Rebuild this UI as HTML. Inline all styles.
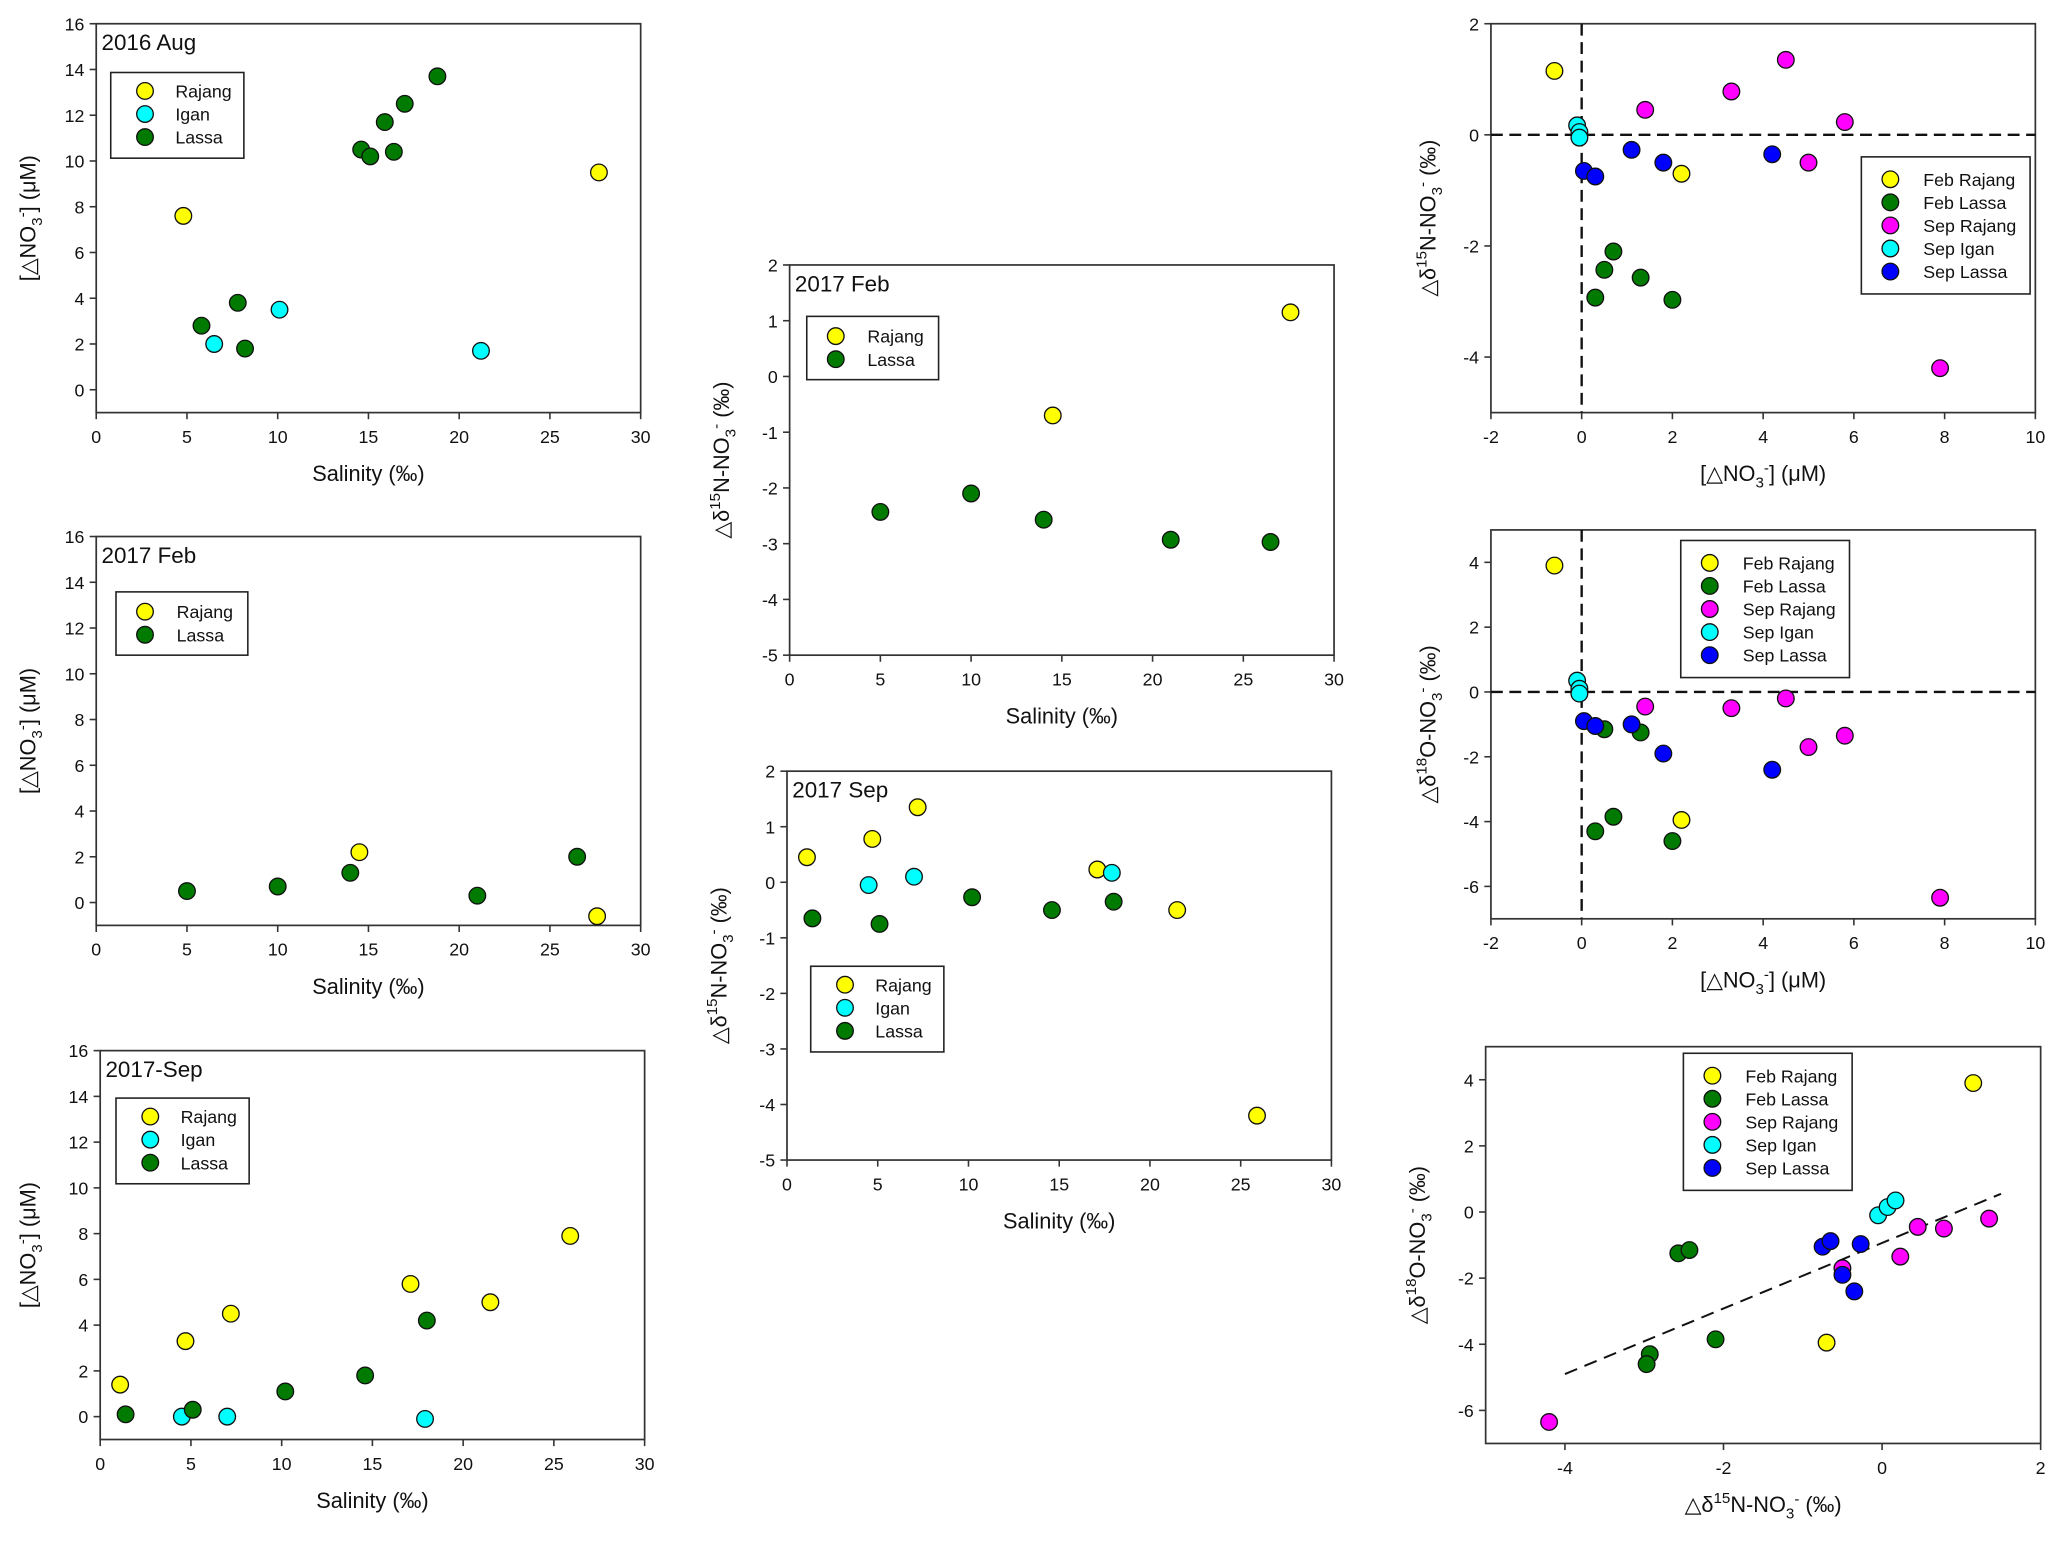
<!DOCTYPE html>
<html><head><meta charset="utf-8"><style>
html,body{margin:0;padding:0;background:#fff;}
svg{display:block;font-family:"Liberation Sans",Arial,sans-serif;}
</style></head><body>
<svg id="fig" width="2067" height="1548" viewBox="0 0 1568 1174.3" preserveAspectRatio="none" xmlns="http://www.w3.org/2000/svg"></svg>
<script>
const p1RajangX=[4.8,27.7]; const p1RajangY=[7.6,9.5];
const p1IganX=[6.5,10.1,21.2]; const p1IganY=[2.0,3.5,1.7];
const p1LassaX=[5.8,7.8,8.2,14.6,15.1,16.4,15.9,17.0,18.8]; const p1LassaY=[2.8,3.8,1.8,10.5,10.2,10.4,11.7,12.5,13.7];

const p2RajangX=[14.5,27.6]; const p2RajangY=[2.2,-0.6];
const p2LassaX=[5,10,14,21,26.5]; const p2LassaY=[0.5,0.7,1.3,0.3,2.0];

const p3RajangX=[1.1,4.7,7.2,17.1,21.5,25.9]; const p3RajangY=[1.4,3.3,4.5,5.8,5.0,7.9];
const p3IganX=[4.5,7.0,17.9]; const p3IganY=[0,0,-0.1];
const p3LassaX=[1.4,5.1,10.2,14.6,18.0]; const p3LassaY=[0.1,0.3,1.1,1.8,4.2];

const m1RajangX=[14.5,27.6]; const m1RajangY=[-0.7,1.15];
const m1LassaX=[5,10,14,21,26.5]; const m1LassaY=[-2.43,-2.1,-2.57,-2.93,-2.97];

const m2RajangX=[1.1,4.7,7.2,17.1,21.5,25.9]; const m2RajangY=[0.45,0.78,1.35,0.23,-0.5,-4.2];
const m2IganX=[4.5,7.0,17.9]; const m2IganY=[-0.05,0.1,0.17];
const m2LassaX=[1.4,5.1,10.2,14.6,18.0]; const m2LassaY=[-0.65,-0.75,-0.27,-0.5,-0.35];

const r1FebRajX=[-0.6,2.2]; const r1FebRajY=[1.15,-0.7];
const r1FebLasX=[0.5,0.7,1.3,0.3,2.0]; const r1FebLasY=[-2.43,-2.1,-2.57,-2.93,-2.97];
const r1SepRajX=[1.4,3.3,4.5,5.8,5.0,7.9]; const r1SepRajY=[0.45,0.78,1.35,0.23,-0.5,-4.2];
const r1SepIgaX=[-0.1,-0.05,-0.05]; const r1SepIgaY=[0.17,0.05,-0.05];
const r1SepLasX=[0.05,0.3,1.1,1.8,4.2]; const r1SepLasY=[-0.65,-0.75,-0.27,-0.5,-0.35];

const r2FebRajX=[-0.6,2.2]; const r2FebRajY=[3.9,-3.95];
const r2FebLasX=[0.5,1.3,0.3,0.7,2.0]; const r2FebLasY=[-1.15,-1.25,-4.3,-3.85,-4.6];
const r2SepRajX=[1.4,3.3,4.5,5.0,5.8,7.9]; const r2SepRajY=[-0.45,-0.5,-0.2,-1.7,-1.35,-6.35];
const r2SepIgaX=[-0.1,-0.05,-0.05]; const r2SepIgaY=[0.35,0.1,-0.05];
const r2SepLasX=[0.05,0.3,1.1,1.8,4.2]; const r2SepLasY=[-0.9,-1.05,-1.0,-1.9,-2.4];

const r3FebRajX=[1.15,-0.7]; const r3FebRajY=[3.9,-3.95];
const r3FebLasX=[-2.57,-2.43,-2.93,-2.97,-2.1]; const r3FebLasY=[-1.25,-1.15,-4.3,-4.6,-3.85];
const r3SepRajX=[0.45,0.78,1.35,-0.5,0.23,-4.2]; const r3SepRajY=[-0.45,-0.5,-0.2,-1.7,-1.35,-6.35];
const r3SepIgaX=[-0.05,0.07,0.17]; const r3SepIgaY=[-0.1,0.15,0.35];
const r3SepLasX=[-0.75,-0.65,-0.27,-0.5,-0.35]; const r3SepLasY=[-1.05,-0.88,-0.97,-1.9,-2.4];
const r3FitX=[-4,1.5]; const r3FitY=[-4.9,0.55];

const salTicks=[0,5,10,15,20,25,30];
const no3Ticks=[0,2,4,6,8,10,12,14,16];
const d15Ticks=[-5,-4,-3,-2,-1,0,1,2];
const dno3Ticks=[-2,0,2,4,6,8,10];
const r1YTicks=[-4,-2,0,2];
const r2YTicks=[-6,-4,-2,0,2,4];
const r3XTicks=[-4,-2,0,2];

const C={Y:'#ffff00',G:'#007a00',M:'#ff00ff',C:'#00ffff',B:'#0000ff'};
const NS='http://www.w3.org/2000/svg';
const svg=document.getElementById('fig');
function el(tag,attrs,parent){const e=document.createElementNS(NS,tag);for(const k in attrs)e.setAttribute(k,attrs[k]);(parent||svg).appendChild(e);return e;}

function panel(o){
  const g=el('g',{});
  
  
  const sx=v=>o.x0+(v-o.xd[0])/(o.xd[1]-o.xd[0])*(o.x1-o.x0);
  const sy=v=>o.y1-(v-o.yd[0])/(o.yd[1]-o.yd[0])*(o.y1-o.y0);
  const box=el('rect',{x:o.x0,y:o.y0,width:o.x1-o.x0,height:o.y1-o.y0,fill:'none',stroke:'#333','stroke-width':1.3},g);
  
  
  o.xt.forEach(t=>{const X=sx(t);el('line',{x1:X,x2:X,y1:o.y1,y2:o.y1+5,stroke:'#333','stroke-width':1.2},g);
    const tx=el('text',{x:X,y:o.y1+23,'font-size':13.5,'text-anchor':'middle',fill:'#111'},g);tx.textContent=t;
    
    });
  o.yt.forEach(t=>{const Y=sy(t);el('line',{x1:o.x0-5,x2:o.x0,y1:Y,y2:Y,stroke:'#333','stroke-width':1.2},g);
    const tx=el('text',{x:o.x0-9,y:Y+5,'font-size':13.5,'text-anchor':'end',fill:'#111'},g);tx.textContent=t;
    
    });
  if(o.cross){
    el('line',{x1:sx(0),x2:sx(0),y1:o.y0,y2:o.y1,stroke:'#111','stroke-width':1.8,'stroke-dasharray':'9,5'},g);
    el('line',{x1:o.x0,x2:o.x1,y1:sy(0),y2:sy(0),stroke:'#111','stroke-width':1.8,'stroke-dasharray':'9,5'},g);
  }
  if(o.fit){const l=el('line',{x1:sx(o.fit[0][0]),y1:sy(o.fit[1][0]),x2:sx(o.fit[0][1]),y2:sy(o.fit[1][1]),stroke:'#111','stroke-width':1.5,'stroke-dasharray':'10,6'},g);
    
    }
  o.series.forEach(s=>{s.x.forEach((v,i)=>{const c=el('circle',{cx:sx(v),cy:sy(s.y[i]),r:6.3,fill:C[s.c],stroke:'#111','stroke-width':1},g);
    
    });});
  if(o.title){const t=el('text',{x:o.x0+4,y:o.y0+20,'font-size':17,fill:'#111'},g);t.textContent=o.title;
    
    }
  const L=o.leg;const lg=el('g',{},g);
  
  
  el('rect',{x:L.x,y:L.y,width:L.w,height:L.h,fill:'#fff',stroke:'#222','stroke-width':1.2},lg);
  o.series.forEach((s,i)=>{const yy=L.y+L.pad+i*17.5;
    el('circle',{cx:L.x+L.mx,cy:yy,r:6.3,fill:C[s.c],stroke:'#111','stroke-width':1},lg);
    const t=el('text',{x:L.x+L.tx,y:yy+5,'font-size':13.5,fill:'#111'},lg);t.textContent=s.n;
    
    });
  const xl=el('text',{x:(o.x0+o.x1)/2,y:o.y1+52,'font-size':16.5,'text-anchor':'middle',fill:'#111'},g);
  xl.innerHTML=o.xlab;
  
  
  const cy=(o.y0+o.y1)/2, cx=o.x0-o.ylx;
  const yl=el('text',{x:cx,y:cy,'font-size':16.5,'text-anchor':'middle',fill:'#111',transform:`rotate(-90 ${cx} ${cy})`},g);
  yl.innerHTML=o.ylab;
  
  
}
const SAL='Salinity (‰)';
const NO3Y='[△NO<tspan font-size="11.5" dy="5">3</tspan><tspan font-size="11.5" dy="-11">-</tspan><tspan dy="6">] (μM)</tspan>';
const NO3X=NO3Y;
const D15='△δ<tspan font-size="11.5" dy="-7">15</tspan><tspan dy="7">N-NO</tspan><tspan font-size="11.5" dy="5">3</tspan><tspan font-size="11.5" dy="-11">-</tspan><tspan dy="6"> (‰)</tspan>';
const D18='△δ<tspan font-size="11.5" dy="-7">18</tspan><tspan dy="7">O-NO</tspan><tspan font-size="11.5" dy="5">3</tspan><tspan font-size="11.5" dy="-11">-</tspan><tspan dy="6"> (‰)</tspan>';
const leg3=(x,y)=>({x:x,y:y,w:101,h:65,pad:14,mx:26,tx:49});
const leg2=(x,y)=>({x:x,y:y,w:100,h:48,pad:15,mx:22,tx:46});
const leg5=(x,y)=>({x:x,y:y,w:128,h:104,pad:17,mx:22,tx:47});

panel({name:'panel-2016-aug-no3',x0:73,x1:486,y0:18,y1:313,xd:[0,30],yd:[-1,16],xt:salTicks,yt:no3Ticks,title:'2016 Aug',xlab:SAL,ylab:NO3Y,ylx:46,
 leg:leg3(84,55),series:[{n:'Rajang',c:'Y',x:p1RajangX,y:p1RajangY},{n:'Igan',c:'C',x:p1IganX,y:p1IganY},{n:'Lassa',c:'G',x:p1LassaX,y:p1LassaY}]});
panel({name:'panel-2017-feb-no3',x0:73,x1:486,y0:407,y1:702,xd:[0,30],yd:[-1,16],xt:salTicks,yt:no3Ticks,title:'2017 Feb',xlab:SAL,ylab:NO3Y,ylx:46,
 leg:leg2(88,449),series:[{n:'Rajang',c:'Y',x:p2RajangX,y:p2RajangY},{n:'Lassa',c:'G',x:p2LassaX,y:p2LassaY}]});
panel({name:'panel-2017-sep-no3',x0:76,x1:489,y0:797,y1:1092,xd:[0,30],yd:[-1,16],xt:salTicks,yt:no3Ticks,title:'2017-Sep',xlab:SAL,ylab:NO3Y,ylx:49,
 leg:leg3(88,833),series:[{n:'Rajang',c:'Y',x:p3RajangX,y:p3RajangY},{n:'Igan',c:'C',x:p3IganX,y:p3IganY},{n:'Lassa',c:'G',x:p3LassaX,y:p3LassaY}]});
panel({name:'panel-2017-feb-d15n',x0:599,x1:1012,y0:201,y1:497,xd:[0,30],yd:[-5,2],xt:salTicks,yt:d15Ticks,title:'2017 Feb',xlab:SAL,ylab:D15,ylx:46,
 leg:leg2(612,240),series:[{n:'Rajang',c:'Y',x:m1RajangX,y:m1RajangY},{n:'Lassa',c:'G',x:m1LassaX,y:m1LassaY}]});
panel({name:'panel-2017-sep-d15n',x0:597,x1:1010,y0:585,y1:880,xd:[0,30],yd:[-5,2],xt:salTicks,yt:d15Ticks,title:'2017 Sep',xlab:SAL,ylab:D15,ylx:46,
 leg:leg3(615,733),series:[{n:'Rajang',c:'Y',x:m2RajangX,y:m2RajangY},{n:'Igan',c:'C',x:m2IganX,y:m2IganY},{n:'Lassa',c:'G',x:m2LassaX,y:m2LassaY}]});
panel({name:'panel-no3-vs-d15n',x0:1131,x1:1544,y0:18,y1:313,xd:[-2,10],yd:[-5,2],xt:dno3Ticks,yt:r1YTicks,cross:true,xlab:NO3X,ylab:D15,ylx:42,
 leg:leg5(1412,119),series:[{n:'Feb Rajang',c:'Y',x:r1FebRajX,y:r1FebRajY},{n:'Feb Lassa',c:'G',x:r1FebLasX,y:r1FebLasY},{n:'Sep Rajang',c:'M',x:r1SepRajX,y:r1SepRajY},{n:'Sep Igan',c:'C',x:r1SepIgaX,y:r1SepIgaY},{n:'Sep Lassa',c:'B',x:r1SepLasX,y:r1SepLasY}]});
panel({name:'panel-no3-vs-d18o',x0:1131,x1:1544,y0:402,y1:697,xd:[-2,10],yd:[-7,5],xt:dno3Ticks,yt:r2YTicks,cross:true,xlab:NO3X,ylab:D18,ylx:42,
 leg:leg5(1275,410),series:[{n:'Feb Rajang',c:'Y',x:r2FebRajX,y:r2FebRajY},{n:'Feb Lassa',c:'G',x:r2FebLasX,y:r2FebLasY},{n:'Sep Rajang',c:'M',x:r2SepRajX,y:r2SepRajY},{n:'Sep Igan',c:'C',x:r2SepIgaX,y:r2SepIgaY},{n:'Sep Lassa',c:'B',x:r2SepLasX,y:r2SepLasY}]});
panel({name:'panel-d15n-vs-d18o',x0:1127,x1:1548,y0:794,y1:1095,xd:[-5,2],yd:[-7,5],xt:r3XTicks,yt:r2YTicks,fit:[r3FitX,r3FitY],xlab:D15,ylab:D18,ylx:46,
 leg:leg5(1277,799),series:[{n:'Feb Rajang',c:'Y',x:r3FebRajX,y:r3FebRajY},{n:'Feb Lassa',c:'G',x:r3FebLasX,y:r3FebLasY},{n:'Sep Rajang',c:'M',x:r3SepRajX,y:r3SepRajY},{n:'Sep Igan',c:'C',x:r3SepIgaX,y:r3SepIgaY},{n:'Sep Lassa',c:'B',x:r3SepLasX,y:r3SepLasY}]});
</script>
</body></html>
